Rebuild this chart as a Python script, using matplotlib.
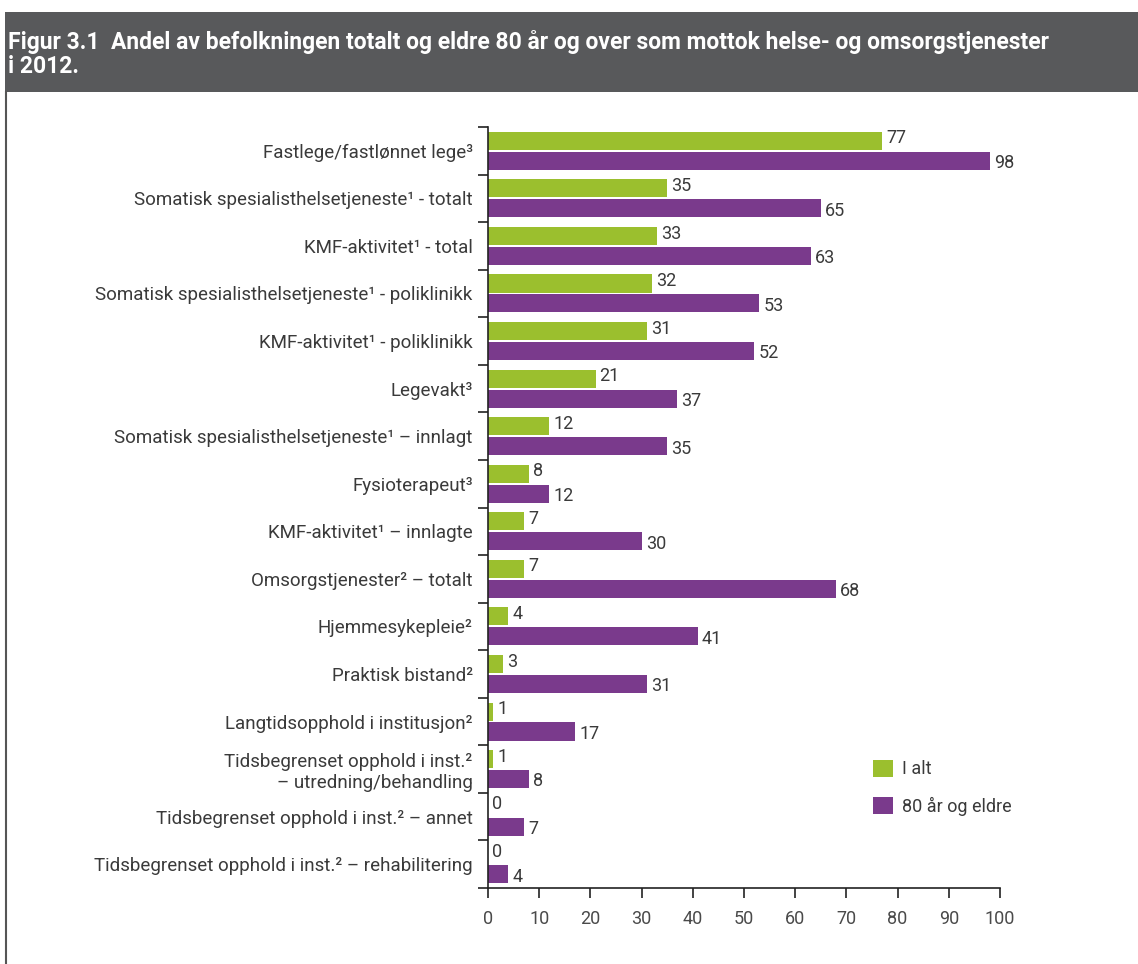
import matplotlib
matplotlib.use('Agg')
import matplotlib.pyplot as plt
from matplotlib.patches import Rectangle
from matplotlib.lines import Line2D
import numpy as np

plt.rcParams.update({
    'font.family': ['Roboto', 'DejaVu Sans'],
    'font.size': 13,
    'text.color': '#3a3a3a',
    'axes.edgecolor': '#222222',
    'xtick.color': '#222222',
    'ytick.color': '#222222',
    'xtick.labelcolor': '#4a4a4a',
})

# ---- data ----
categories = [
    'Fastlege/fastlønnet lege³',
    'Somatisk spesialisthelsetjeneste¹ - totalt',
    'KMF-aktivitet¹ - total',
    'Somatisk spesialisthelsetjeneste¹ - poliklinikk',
    'KMF-aktivitet¹ - poliklinikk',
    'Legevakt³',
    'Somatisk spesialisthelsetjeneste¹ – innlagt',
    'Fysioterapeut³',
    'KMF-aktivitet¹ – innlagte',
    'Omsorgstjenester² – totalt',
    'Hjemmesykepleie²',
    'Praktisk bistand²',
    'Langtidsopphold i institusjon²',
    'Tidsbegrenset opphold i inst.²\n– utredning/behandling',
    'Tidsbegrenset opphold i inst.² – annet',
    'Tidsbegrenset opphold i inst.² – rehabilitering',
]
i_alt = [77, 35, 33, 32, 31, 21, 12, 8, 7, 7, 4, 3, 1, 1, 0, 0]
eldre_80 = [98, 65, 63, 53, 52, 37, 35, 12, 30, 68, 41, 31, 17, 8, 7, 4]
series_names = ['I alt', '80 år og eldre']
x_ticks = list(range(0, 101, 10))

title = ('Figur 3.1  Andel av befolkningen totalt og eldre 80 år og over som mottok '
         'helse- og omsorgstjenester\ni 2012.')

c_green = '#9bbf2e'
c_purple = '#7a3a8c'

fig = plt.figure(figsize=(11.38, 9.64), dpi=100)

# header band + left rule
fig.patches.append(Rectangle((0.004, 1 - 92 / 964), 0.996, 80 / 964,
                             transform=fig.transFigure, facecolor='#58595b',
                             edgecolor='none'))
fig.lines.append(Line2D([0.005, 0.005], [0, 1 - 92 / 964], transform=fig.transFigure,
                        color='#555555', linewidth=1.5))
fig.text(0.007, 1 - 54 / 964, title, color='white', fontsize=16.5, fontweight='bold',
         va='center', ha='left', linespacing=1.1)

ax = fig.add_axes([488 / 1138, 1 - 888 / 964, 512 / 1138, (888 - 127) / 964])

n = len(categories)
y = np.arange(n)
h = 0.38
ax.barh(y - h / 2 - 0.02, i_alt, height=h, color=c_green, label=series_names[0])
ax.barh(y + h / 2 + 0.02, eldre_80, height=h, color=c_purple, label=series_names[1])

for yi, v in zip(y, i_alt):
    ax.text(v + 0.8, yi - h / 2 - 0.07, str(v), va='center', ha='left', fontsize=13)
for yi, v in zip(y, eldre_80):
    ax.text(v + 0.8, yi + h / 2 + 0.07, str(v), va='center', ha='left', fontsize=13)

ax.set_ylim(n - 0.5, -0.5)
ax.set_xlim(0, 100)
ax.set_xticks(x_ticks)
ax.set_yticks(np.arange(-0.5, n, 1.0))
ax.set_yticklabels([])
ax.set_yticks(y, minor=True)
ax.set_yticklabels(categories, minor=True, fontsize=13.5, color='#3a3a3a')
ax.tick_params(axis='y', which='minor', length=0, pad=11)
ax.tick_params(axis='y', which='major', length=7, width=1.2)
ax.tick_params(axis='x', length=7, width=1.2, pad=9, labelsize=13)
for lab in ax.get_yticklabels(minor=True):
    lab.set_multialignment('right')

ax.spines['top'].set_visible(False)
ax.spines['right'].set_visible(False)
ax.spines['left'].set_linewidth(1.2)
ax.spines['bottom'].set_linewidth(1.2)

leg = ax.legend(loc='upper left', bbox_to_anchor=(0.72, 0.19), frameon=False,
                handlelength=1.1, handleheight=1.1, labelspacing=1.0,
                handletextpad=0.5, fontsize=13)

fig.savefig('out.png', dpi=100, facecolor='white')
